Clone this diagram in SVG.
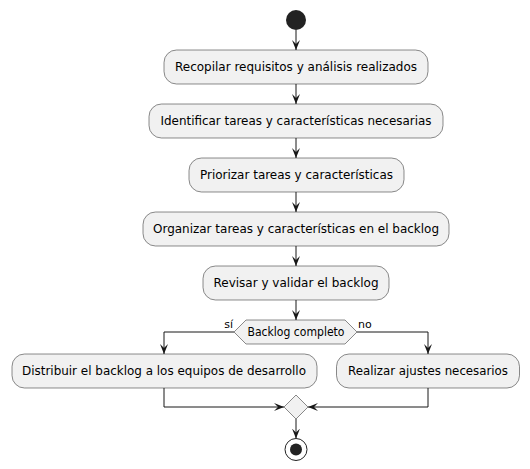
<svg xmlns="http://www.w3.org/2000/svg" width="530" height="469" viewBox="0 0 530 469">
<style>
.box{fill:#F1F1F1;stroke:#181818;stroke-width:0.5}
.t{font-family:"DejaVu Sans","Liberation Sans",sans-serif;font-size:12px;fill:#000;text-anchor:middle}
.s{font-family:"DejaVu Sans","Liberation Sans",sans-serif;font-size:11px;fill:#000}
.c{fill:none;stroke:#181818;stroke-width:1}
</style>
<defs>
<marker id="a" markerWidth="10" markerHeight="8" refX="10" refY="4" orient="auto" markerUnits="userSpaceOnUse">
<path d="M0,0 L10,4 L0,8 L4,4 Z" fill="#181818"/>
</marker>
</defs>
<rect width="530" height="469" fill="#FFFFFF"/>
<g id="connectors">
<path class="c" d="M296,30 V50" marker-end="url(#a)"/>
<path class="c" d="M296,84 V104" marker-end="url(#a)"/>
<path class="c" d="M296,138 V158" marker-end="url(#a)"/>
<path class="c" d="M296,192 V212" marker-end="url(#a)"/>
<path class="c" d="M296,246 V266" marker-end="url(#a)"/>
<path class="c" d="M296,300 V320" marker-end="url(#a)"/>
<path class="c" d="M234,332 H164 V354" marker-end="url(#a)"/>
<path class="c" d="M357,332 H428 V354" marker-end="url(#a)"/>
<path class="c" d="M164,388 V407 H284" marker-end="url(#a)"/>
<path class="c" d="M428,388 V407 H308" marker-end="url(#a)"/>
<path class="c" d="M296,419 V438.5" marker-end="url(#a)"/>
<text class="s" x="233" y="328" text-anchor="end">sí</text>
<text class="s" x="358" y="328">no</text>
</g>
<g id="start"><circle cx="296" cy="20" r="10" fill="#222222"/></g>
<g id="n1"><rect class="box" x="164" y="50" width="264" height="34" rx="12.5"/><text class="t" x="296" y="71" textLength="242" lengthAdjust="spacingAndGlyphs">Recopilar requisitos y análisis realizados</text></g>
<g id="n2"><rect class="box" x="149" y="104" width="294" height="34" rx="12.5"/><text class="t" x="296" y="125" textLength="271" lengthAdjust="spacingAndGlyphs">Identificar tareas y características necesarias</text></g>
<g id="n3"><rect class="box" x="189" y="158" width="215" height="34" rx="12.5"/><text class="t" x="296.5" y="179" textLength="193" lengthAdjust="spacingAndGlyphs">Priorizar tareas y características</text></g>
<g id="n4"><rect class="box" x="143" y="212" width="306" height="34" rx="12.5"/><text class="t" x="296" y="233" textLength="286" lengthAdjust="spacingAndGlyphs">Organizar tareas y características en el backlog</text></g>
<g id="n5"><rect class="box" x="203" y="266" width="186" height="34" rx="12.5"/><text class="t" x="296" y="287" textLength="165" lengthAdjust="spacingAndGlyphs">Revisar y validar el backlog</text></g>
<g id="decision"><polygon class="box" points="234,332 246,320 345,320 357,332 345,344 246,344"/><text class="t" x="296" y="336" textLength="97" lengthAdjust="spacingAndGlyphs">Backlog completo</text></g>
<g id="n6"><rect class="box" x="12" y="354" width="305" height="34" rx="12.5"/><text class="t" x="164" y="375" textLength="284" lengthAdjust="spacingAndGlyphs">Distribuir el backlog a los equipos de desarrollo</text></g>
<g id="n7"><rect class="box" x="336.5" y="354" width="183" height="34" rx="12.5"/><text class="t" x="428" y="375" textLength="160" lengthAdjust="spacingAndGlyphs">Realizar ajustes necesarios</text></g>
<g id="merge"><polygon class="box" points="296,395 308,407 296,419 284,407"/></g>
<g id="stop"><circle cx="296" cy="449.5" r="11" fill="none" stroke="#222222" stroke-width="1"/><circle cx="296" cy="449.5" r="6" fill="#222222"/></g>
</svg>
